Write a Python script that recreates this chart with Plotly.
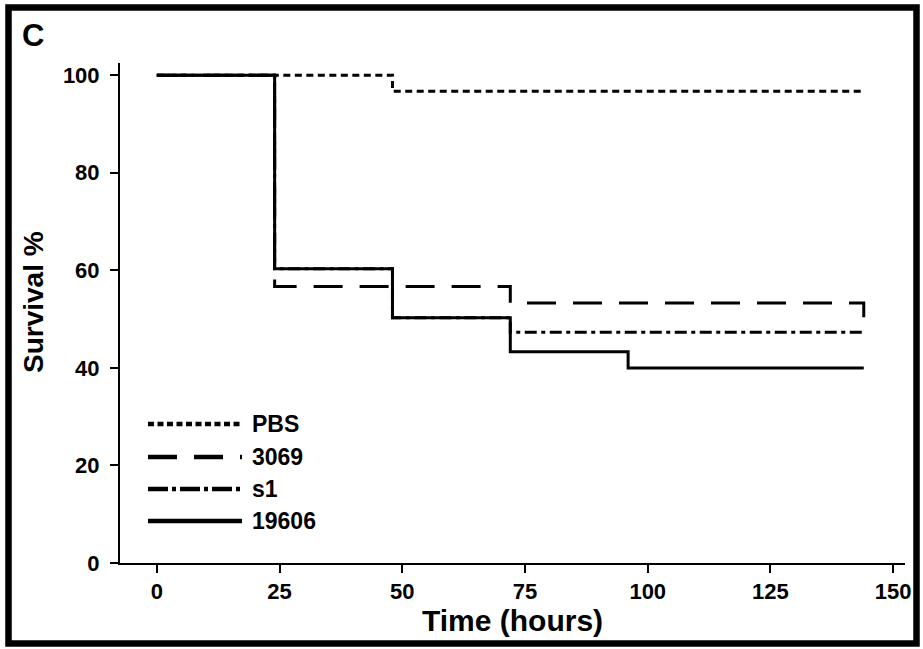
import plotly.graph_objects as go

# ---- data ----
series_names = ["PBS", "3069", "s1", "19606"]
time_pbs = [0, 48, 144]
surv_pbs = [100, 96.7, 96.7]
time_3069 = [0, 24, 72, 144]
surv_3069 = [100, 56.7, 53.3, 48.3]
time_s1 = [0, 24, 48, 72, 144]
surv_s1 = [100, 60.3, 50.3, 47.3, 47.3]
time_19606 = [0, 24, 48, 72, 96, 144]
surv_19606 = [100, 60.3, 50.3, 43.3, 40, 40]

x_ticks = [0, 25, 50, 75, 100, 125, 150]
y_ticks = [0, 20, 40, 60, 80, 100]

FONT = "Liberation Sans, Arial, Helvetica, sans-serif"

plot_dash = ["7px,4.5px", "29px,17px", "12px,4.5px,4px,4.5px", "solid"]
legend_dash = ["6px,3.5px", "29px,17px", "20px,4px,4px,4px", "solid"]

fig = go.Figure()
for name, xs, ys, dash in zip(
    series_names,
    [time_pbs, time_3069, time_s1, time_19606],
    [surv_pbs, surv_3069, surv_s1, surv_19606],
    plot_dash,
):
    fig.add_trace(go.Scatter(
        x=xs, y=ys, mode="lines", name=name, line_shape="hv",
        line=dict(color="black", width=3, dash=dash), showlegend=False,
    ))

# plot area geometry in pixels (for layout conversions)
L, R, T, B = 120, 905, 63, 563
W, H = R - L, B - T


def px(x):
    return (x - L) / W


def py(y):
    return (B - y) / H


shapes = []
# outer frame
shapes.append(dict(type="rect", xref="paper", yref="paper",
                   x0=px(8.5), x1=px(916.5), y0=py(643.5), y1=py(7.5),
                   line=dict(color="black", width=6.5), layer="above"))

# manual legend (long line samples like the reference)
leg_y = [424, 457, 489, 521]
annotations = []
for name, dash, yy in zip(series_names, legend_dash, leg_y):
    shapes.append(dict(type="line", xref="paper", yref="paper",
                       x0=px(148), x1=px(242), y0=py(yy), y1=py(yy),
                       line=dict(color="black", width=4.5, dash=dash)))
    annotations.append(dict(text=name, xref="paper", yref="paper",
                            x=px(250), y=py(yy), xanchor="left", yanchor="middle",
                            showarrow=False,
                            font=dict(family=FONT, size=23, color="black", weight="bold")))

annotations.append(dict(text="C", xref="paper", yref="paper",
                        x=px(20), y=py(36), xanchor="left", yanchor="middle",
                        showarrow=False,
                        font=dict(family=FONT, size=31, color="black", weight="bold")))

# y-axis title as rotated text
annotations.append(dict(text="Survival %", xref="paper", yref="paper",
                        x=px(33), y=py(302), xanchor="center", yanchor="middle",
                        textangle=-90, showarrow=False,
                        font=dict(family=FONT, size=28, color="black", weight="bold")))

axis_common = dict(
    showgrid=False, zeroline=False, showline=True, linecolor="black", linewidth=2,
    ticks="outside", ticklen=8, tickwidth=2, tickcolor="black",
    tickfont=dict(family=FONT, size=22, color="black", weight="bold"),
)

fig.update_layout(
    width=923, height=649,
    margin=dict(l=L, r=923 - R, t=T, b=649 - B),
    paper_bgcolor="white", plot_bgcolor="white",
    shapes=shapes, annotations=annotations,
    xaxis=dict(range=[-7.5, 152.4], tickvals=x_ticks,
               title=dict(text="Time (hours)", standoff=2,
                          font=dict(family=FONT, size=30, color="black", weight="bold")),
               **axis_common),
    yaxis=dict(range=[0, 102.5], tickvals=y_ticks, ticklabelstandoff=6,
               **axis_common),
)

fig.write_html("out.html")
